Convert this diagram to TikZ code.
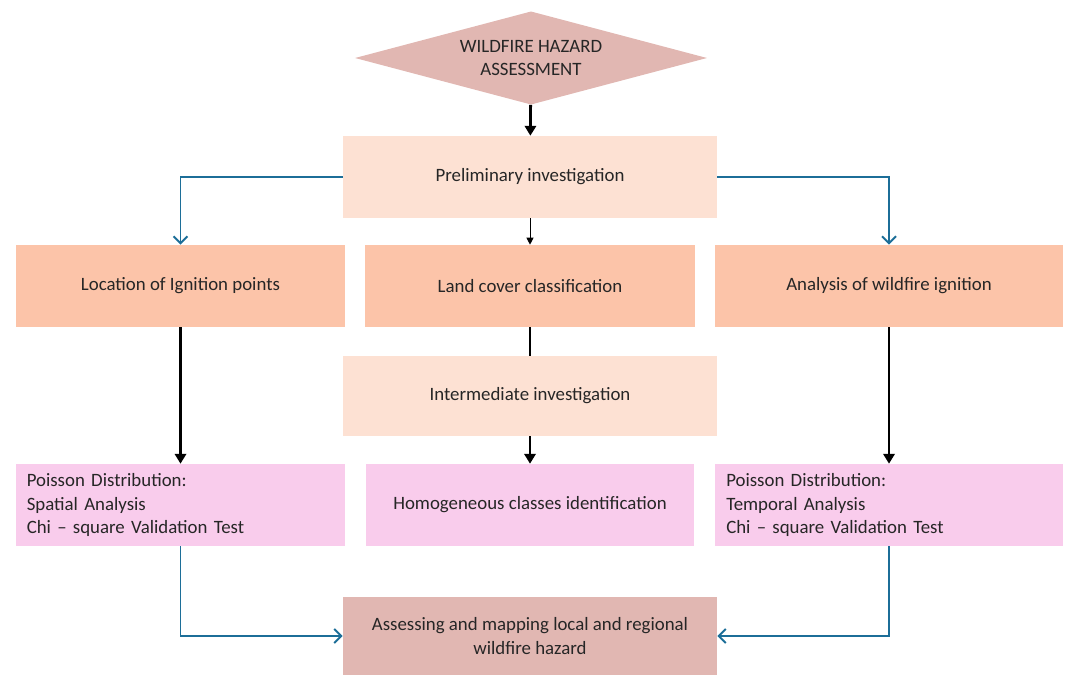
\documentclass[tikz,border=0pt]{standalone}
\usepackage{fontspec}
\setmainfont{Carlito}
\usepackage{xcolor}
\usepackage{tikz}
\usetikzlibrary{shapes.geometric,arrows.meta}

\definecolor{hazardpink}{HTML}{E1B7B2}
\definecolor{stagepeach}{HTML}{FDE1D3}
\definecolor{taskorange}{HTML}{FCC4A9}
\definecolor{resultpink}{HTML}{F9CCEC}
\definecolor{flowblue}{HTML}{1C6E98}

\begin{document}
\begin{tikzpicture}[
    x=0.025cm, y=-0.025cm,
    font=\fontsize{13.4pt}{16.4pt}\selectfont,
    box/.style={rectangle, fill=#1, text=black!85, minimum height=2.05cm, align=center, inner sep=0pt},
    listbox/.style={rectangle, fill=resultpink, text=black!85, minimum height=2.05cm, align=left, inner xsep=0.27cm},
    thickarrow/.style={-{Triangle[length=7pt,width=8pt]}, line width=2pt},
    bluearrow/.style={-{Straight Barb[length=5pt,width=10pt]}, line width=1.4pt, draw=flowblue}
]
    \useasboundingbox (0,0) rectangle (1065,675);

    % Start
    \node[diamond, fill=hazardpink, text=black!85, aspect=3.8, inner sep=0pt,
          minimum width=8.8cm, minimum height=2.33cm, align=center]
          (hazard) at (531,58) {WILDFIRE HAZARD\\ASSESSMENT};

    % Preliminary stage
    \node[box=stagepeach, minimum width=9.35cm] (prelim) at (530,177) {Preliminary investigation};

    % Second row
    \node[box=taskorange, minimum width=8.225cm] (ignition) at (180.5,286) {Location of Ignition points};
    \node[box=taskorange, minimum width=8.225cm] (landcover) at (530,286) {Land cover classification};
    \node[box=taskorange, minimum width=8.7cm] (analysis) at (889,286) {Analysis of wildfire ignition};

    % Intermediate stage
    \node[box=stagepeach, minimum width=9.325cm, minimum height=2cm] (intermediate) at (530,396) {Intermediate investigation};

    % Results row
    \node[listbox, text width=7.685cm] (spatial) at (180.5,505)
        {Poisson Distribution:\\Spatial Analysis\\Chi -- square Validation Test};
    \node[box=resultpink, minimum width=8.175cm] (classes) at (530,505) {Homogeneous classes identification};
    \node[listbox, text width=8.135cm] (temporal) at (889,505)
        {Poisson Distribution:\\Temporal Analysis\\Chi -- square Validation Test};

    % Final output
    \node[box=hazardpink, minimum width=9.35cm, minimum height=1.95cm] (mapping) at (530,636)
        {Assessing and mapping local and regional\\wildfire hazard};

    % Arrows
    \draw[thickarrow] (hazard) -- (prelim);
    \draw[-{Triangle[length=5pt,width=5pt]}, line width=0.7pt] (prelim) -- (landcover);
    \draw[bluearrow] (prelim.west) -| (ignition.north);
    \draw[bluearrow] (prelim.east) -| (analysis.north);
    \draw[thickarrow] (ignition) -- (spatial);
    \draw[line width=2pt] (landcover) -- (intermediate);
    \draw[thickarrow] (intermediate) -- (classes);
    \draw[thickarrow] (analysis) -- (temporal);
    \draw[bluearrow] (spatial.south) |- (mapping.west);
    \draw[bluearrow] (temporal.south) |- (mapping.east);
\end{tikzpicture}
\end{document}
